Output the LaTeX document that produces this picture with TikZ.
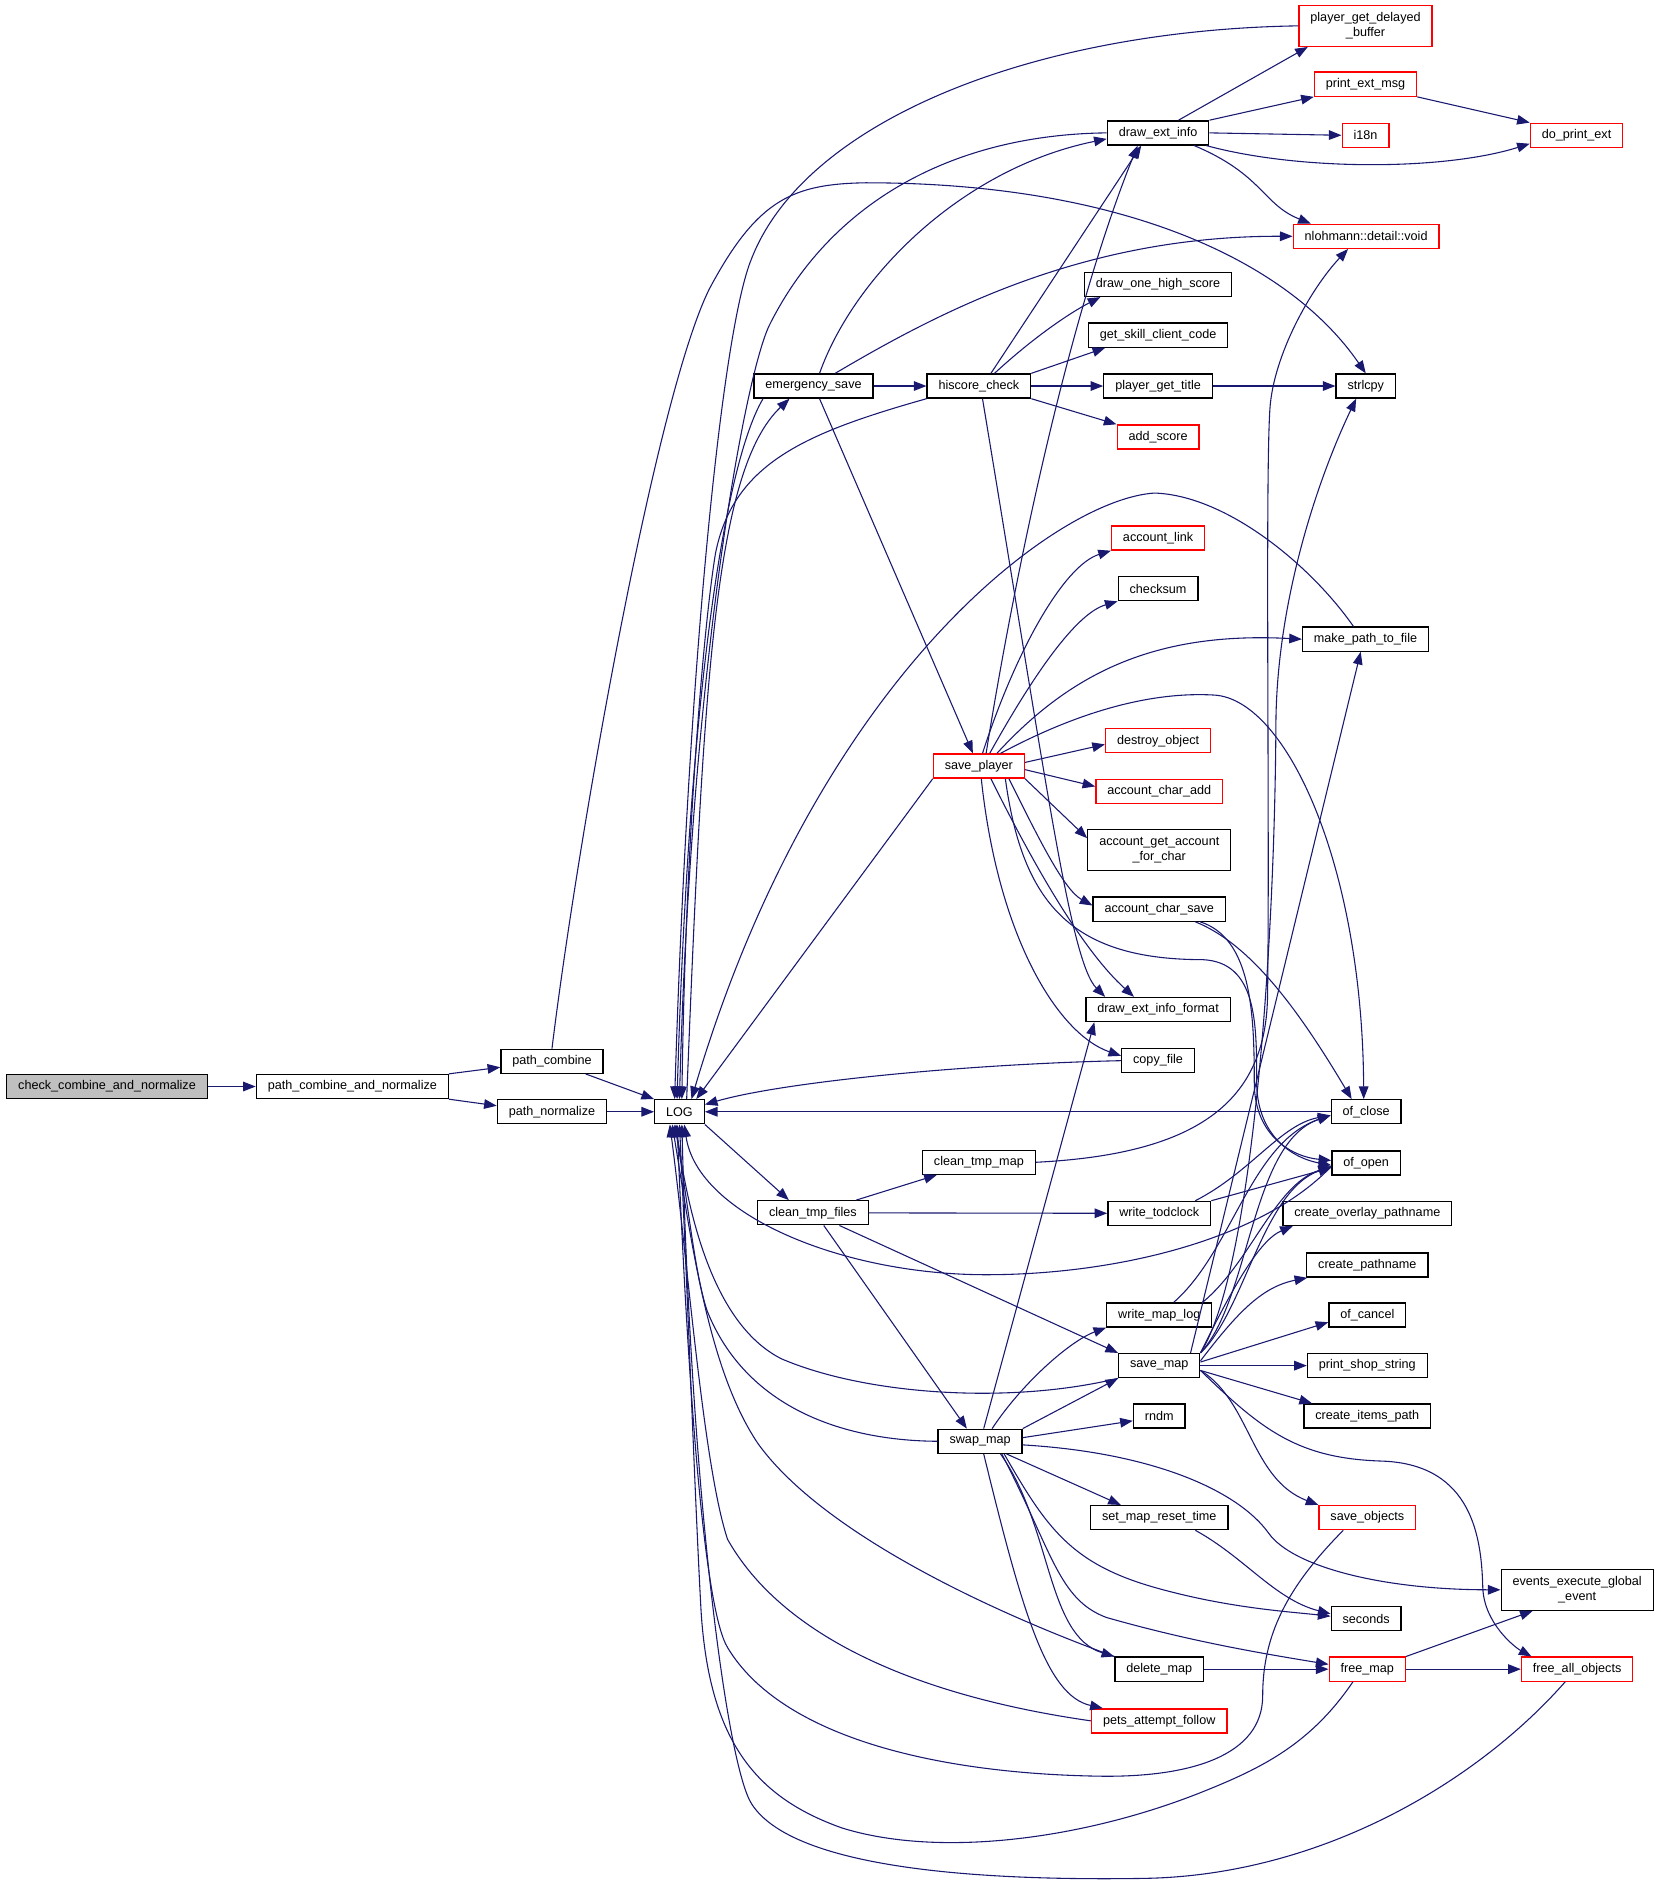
\documentclass[tikz,border=0pt]{standalone}
\usepackage{fontspec}
\setmainfont{Liberation Sans}
\usetikzlibrary{arrows.meta}
\definecolor{edgeblue}{HTML}{191970}
\definecolor{rootgray}{HTML}{BFBFBF}
\begin{document}
\begin{tikzpicture}[x=1pt, y=-1pt,
  >={Triangle[length=10.5pt,width=8pt]},
  fn/.style={draw=black, line width=1.1pt, minimum height=20pt, inner xsep=9.5pt, inner ysep=2pt, font=\fontsize{10.5}{12}\selectfont},
  fnred/.style={fn, draw=red},
  twoline/.style={align=center, minimum height=34pt},
  call/.style={edgeblue, line width=0.9pt, ->}]
\useasboundingbox (0,0) rectangle (1380,1565);
% functions
\node[fn, fill=rootgray] (cacn) at (89,903.5) {check\_combine\_and\_normalize};
\node[fn] (pcan) at (293,903.5) {path\_combine\_and\_normalize};
\node[fn] (pcomb) at (459,882.5) {path\_combine};
\node[fn] (pnorm) at (459,924.5) {path\_normalize};
\node[fn] (log) at (565,924.5) {LOG};
\node[fn] (esave) at (676.5,321) {emergency\_save};
\node[fn] (hcheck) at (814,321) {hiscore\_check};
\node[fn] (dei) at (963,110.5) {draw\_ext\_info};
\node[fnred, twoline] (pgdb) at (1135.5,21.5) {player\_get\_delayed\\\_buffer};
\node[fnred] (pem) at (1135.5,70) {print\_ext\_msg};
\node[fnred] (ien) at (1135.5,112.5) {i18n};
\node[fnred] (dpe) at (1311,112.5) {do\_print\_ext};
\node[fnred] (nvoid) at (1136,196.5) {nlohmann::detail::void};
\node[fn] (dohs) at (963,236.5) {draw\_one\_high\_score};
\node[fn] (gscc) at (963,278.7) {get\_skill\_client\_code};
\node[fn] (pgt) at (963,321) {player\_get\_title};
\node[fn] (strl) at (1135.7,321) {strlcpy};
\node[fnred] (ascore) at (963,363.4) {add\_score};
\node[fnred] (alink) at (963,447.4) {account\_link};
\node[fn] (csum) at (963,489.5) {checksum};
\node[fn] (mptf) at (1135.5,531.5) {make\_path\_to\_file};
\node[fnred] (splayer) at (814,637) {save\_player};
\node[fnred] (dobj) at (963,616) {destroy\_object};
\node[fnred] (acadd) at (964,658) {account\_char\_add};
\node[fn, twoline] (agafc) at (964,707) {account\_get\_account\\\_for\_char};
\node[fn] (acsave) at (964,756) {account\_char\_save};
\node[fn] (deif) at (963,839.5) {draw\_ext\_info\_format};
\node[fn] (cfile) at (963,882) {copy\_file};
\node[fn] (oclose) at (1136,924.5) {of\_close};
\node[fn] (ctmap) at (814,966.5) {clean\_tmp\_map};
\node[fn] (oopen) at (1136,967) {of\_open};
\node[fn] (ctfiles) at (676,1008.5) {clean\_tmp\_files};
\node[fn] (wtod) at (964,1009) {write\_todclock};
\node[fn] (cop) at (1137,1009) {create\_overlay\_pathname};
\node[fn] (cpn) at (1137,1052) {create\_pathname};
\node[fn] (wml) at (964,1093.5) {write\_map\_log};
\node[fn] (ocancel) at (1137,1093.5) {of\_cancel};
\node[fn] (smap) at (964,1135.6) {save\_map};
\node[fn] (pss) at (1137,1135.6) {print\_shop\_string};
\node[fn] (rndm) at (964,1177.5) {rndm};
\node[fn] (cip) at (1137,1177.5) {create\_items\_path};
\node[fn] (swmap) at (815,1198.5) {swap\_map};
\node[fn] (smrt) at (964,1262) {set\_map\_reset\_time};
\node[fnred] (sobj) at (1137,1262) {save\_objects};
\node[fn, twoline] (eeg) at (1311.5,1322) {events\_execute\_global\\\_event};
\node[fn] (secs) at (1136,1346) {seconds};
\node[fn] (dmap) at (964,1388) {delete\_map};
\node[fnred] (fmap) at (1137,1388) {free\_map};
\node[fnred] (fao) at (1311.5,1388) {free\_all\_objects};
\node[fnred] (paf) at (964,1431) {pets\_attempt\_follow};
% path_*
\draw[call] (cacn) -- (pcan);
\draw[call] (pcan.north east) -- ([yshift=-5pt]pcomb.west);
\draw[call] (pcan.south east) -- ([yshift=5pt]pnorm.west);
\draw[call] ([xshift=28pt]pcomb.south) -- (log.north west);
\draw[call] (pnorm) -- (log);
\draw[call] (pcomb.north) .. controls (480,700) and (545,330) .. (590,240) .. controls (630,165) and (660,153) .. (720,152) .. controls (930,152) and (1070,215) .. (strl.north);
% LOG and emergency_save
\draw[call] ([xshift=6pt]log.north) .. controls (585,560) and (595,390) .. ([xshift=-20pt]esave.south);
\draw[call] ([xshift=-42pt]esave.south) .. controls (600,390) and (572,600) .. ([xshift=-2pt]log.north);
\draw[call] (esave) -- (hcheck);
\draw[call] ([xshift=5pt]esave.north) .. controls (710,230) and (800,140) .. ([yshift=-5pt]dei.west);
\draw[call] ([xshift=18pt]esave.north) .. controls (780,260) and (900,196) .. (nvoid.west);
\draw[call] ([xshift=5pt]esave.south) -- ([xshift=-5pt]splayer.north);
% draw_ext_info
\draw[call] (pgdb.west) .. controls (860,25) and (670,100) .. (625,215) .. controls (600,275) and (572,560) .. ([xshift=-4pt]log.north);
\draw[call] (dei.west) .. controls (790,112) and (690,170) .. (640,270) .. controls (620,310) and (575,550) .. (log.north);
\draw[call] ([xshift=17pt]dei.north) -- ([xshift=-48pt]pgdb.south);
\draw[call] (dei.north east) -- (pem.south west);
\draw[call] (dei.east) -- (ien.west);
\draw[call] ([xshift=40pt]dei.south) .. controls (1080,142) and (1200,142) .. ([yshift=-7pt]dpe.west);
\draw[call] ([xshift=30pt]dei.south) .. controls (1050,145) and (1050,170) .. ([xshift=-46pt]nvoid.north);
\draw[call] (pem.south east) -- (dpe.north west);
% hiscore_check
\draw[call] ([xshift=10pt]hcheck.north) -- ([xshift=-14pt]dei.south);
\draw[call] ([xshift=13pt]hcheck.north) .. controls (860,280) and (890,260) .. ([xshift=-48pt]dohs.south);
\draw[call] (hcheck.north east) -- ([xshift=-44pt]gscc.south);
\draw[call] (hcheck) -- (pgt);
\draw[call] (pgt) -- (strl);
\draw[call] (hcheck.south east) -- (ascore.north west);
\draw[call] (hcheck.south west) .. controls (670,360) and (610,385) .. (595,460) .. controls (585,520) and (570,700) .. ([xshift=2pt]log.north);
\draw[call] ([xshift=3pt]hcheck.south) .. controls (870,650) and (890,800) .. ([xshift=-44pt]deif.north);
% save_player
\draw[call] ([xshift=6pt]splayer.north) .. controls (845,470) and (890,260) .. ([xshift=-17pt]dei.south);
\draw[call] ([xshift=3pt]splayer.north) .. controls (845,540) and (885,470) .. (alink.south west);
\draw[call] ([xshift=9pt]splayer.north) .. controls (860,560) and (895,510) .. (csum.south west);
\draw[call] ([xshift=15pt]splayer.north) .. controls (890,560) and (960,525) .. (mptf.west);
\draw[call] ([xshift=18pt]splayer.north) .. controls (900,590) and (960,575) .. (1010,578) .. controls (1070,582) and (1133,720) .. ([xshift=-2pt]oclose.north);
\draw[call] ([yshift=3pt]splayer.east) -- ([yshift=-3pt]dobj.west);
\draw[call] ([yshift=-3pt]splayer.east) -- ([yshift=4pt]acadd.west);
\draw[call] (splayer.south east) -- ([yshift=10pt]agafc.west);
\draw[call] ([xshift=25pt]splayer.south) .. controls (865,700) and (885,740) .. ([yshift=3pt]acsave.west);
\draw[call] ([xshift=22pt]splayer.south) .. controls (850,750) and (890,798) .. (1000,798) .. controls (1045,800) and (1045,850) .. (1045,900) .. controls (1045,940) and (1070,962) .. ([yshift=-2pt]oopen.west);
\draw[call] ([xshift=10pt]splayer.south) .. controls (860,720) and (900,790) .. ([xshift=-20pt]deif.north);
\draw[call] ([xshift=2pt]splayer.south) .. controls (830,780) and (880,860) .. ([yshift=4pt]cfile.west);
\draw[call] (splayer.south west) -- ([xshift=14pt]log.north);
\draw[call] ([xshift=-10pt]mptf.north) .. controls (1090,470) and (1020,412) .. (960,410) .. controls (880,415) and (680,560) .. ([xshift=10pt]log.north);
\draw[call] ([xshift=30pt]acsave.south) .. controls (1040,785) and (1080,840) .. ([xshift=-12pt]oclose.north);
\draw[call] ([xshift=34pt]acsave.south) .. controls (1040,780) and (1043,840) .. (1043,900) .. controls (1043,945) and (1075,962) .. ([yshift=2pt]oopen.west);
\draw[call] (cfile.west) .. controls (800,885) and (650,900) .. ([yshift=6pt]log.east);
\draw[call] (oclose) -- (log);
\draw[call] ([yshift=-3pt]oopen.west) .. controls (1050,1030) and (930,1060) .. (820,1060) .. controls (700,1060) and (580,1010) .. ([xshift=4pt]log.south);
% clean_tmp_files
\draw[call] (log.south east) -- ([xshift=-20pt]ctfiles.north);
\draw[call] ([xshift=36pt]ctfiles.north) -- ([xshift=-35pt]ctmap.south);
\draw[call] (ctfiles) -- (wtod);
\draw[call] ([xshift=22pt]ctfiles.south) -- (smap.north west);
\draw[call] ([xshift=9pt]ctfiles.south) -- ([xshift=-11pt]swmap.north);
\draw[call] (ctmap.east) .. controls (990,960) and (1052,920) .. (1054,830) .. controls (1056,700) and (1052,400) .. (1056,340) .. controls (1059,295) and (1090,240) .. ([xshift=-15pt]nvoid.south);
\draw[call] ([xshift=30pt]wtod.north) .. controls (1040,975) and (1065,935) .. ([yshift=-3pt]oclose.west);
\draw[call] (wtod.north east) -- ([yshift=-4pt]oopen.west);
\draw[call] ([xshift=12pt]wml.north) .. controls (1025,1040) and (1040,950) .. ([yshift=-3pt]oclose.west);
\draw[call] ([xshift=36pt]wml.north) .. controls (1040,1050) and (1060,985) .. ([yshift=-3pt]oopen.west);
% save_map
\draw[call] (smap.north east) .. controls (1040,1080) and (1040,950) .. ([yshift=-3pt]oclose.west);
\draw[call] (smap.north east) .. controls (1035,1090) and (1050,990) .. ([yshift=-3pt]oopen.west);
\draw[call] (smap.north east) .. controls (1040,1060) and (1060,800) .. (1061,600) .. controls (1062,500) and (1095,400) .. ([xshift=-8pt]strl.south);
\draw[call] ([xshift=26pt]smap.north) -- ([xshift=-4pt]mptf.south);
\draw[call] (smap.north east) .. controls (1030,1060) and (1050,1030) .. ([xshift=-62pt]cop.south);
\draw[call] ([yshift=4pt]smap.east) .. controls (1030,1090) and (1050,1070) .. ([xshift=-50pt]cpn.south);
\draw[call] ([yshift=3pt]smap.east) -- ([yshift=-6pt]ocancel.west);
\draw[call] (smap) -- (pss);
\draw[call] ([yshift=-4pt]smap.east) -- ([xshift=-46pt]cip.north);
\draw[call] ([yshift=-4pt]smap.east) .. controls (1040,1165) and (1040,1230) .. (sobj.north west);
\draw[call] ([yshift=-4pt]smap.east) .. controls (1050,1190) and (1080,1213) .. (1150,1215) .. controls (1225,1218) and (1232,1280) .. (1233,1320) .. controls (1234,1350) and (1260,1370) .. ([xshift=-38pt]fao.north);
\draw[call] (smap.south west) .. controls (840,1168) and (720,1160) .. (650,1130) .. controls (600,1105) and (575,1030) .. ([xshift=-3pt]log.south);
% swap_map
\draw[call] (swmap.north east) -- (smap.south west);
\draw[call] ([xshift=10pt]swmap.north) .. controls (850,1150) and (890,1115) .. (wml.south west);
\draw[call] ([xshift=3pt]swmap.north) -- ([xshift=-53pt]deif.south);
\draw[call] ([yshift=3pt]swmap.east) -- ([yshift=-4pt]rndm.west);
\draw[call] ([yshift=-3pt]swmap.east) .. controls (960,1208) and (1030,1240) .. (1055,1275) .. controls (1075,1303) and (1150,1322) .. (eeg.west);
\draw[call] ([xshift=22pt]swmap.south) -- ([xshift=-32pt]smrt.north);
\draw[call] ([xshift=20pt]swmap.south) .. controls (870,1270) and (890,1300) .. (960,1320) .. controls (1020,1337) and (1070,1340) .. ([yshift=2pt]secs.west);
\draw[call] ([xshift=30pt]smrt.south) .. controls (1035,1295) and (1060,1330) .. ([yshift=4pt]secs.west);
\draw[call] ([xshift=18pt]swmap.south) .. controls (875,1290) and (880,1330) .. (920,1345) .. controls (990,1365) and (1050,1375) .. ([yshift=4pt]fmap.west);
\draw[call] ([xshift=17pt]swmap.south) .. controls (875,1270) and (870,1360) .. (dmap.north west);
\draw[call] ([xshift=3pt]swmap.south) .. controls (850,1340) and (870,1410) .. ([xshift=-47pt]paf.north);
\draw[call] (swmap.west) .. controls (700,1198) and (620,1170) .. (588,1090) .. controls (578,1060) and (572,1000) .. ([xshift=-4pt]log.south);
% delete_map, free_map and the rest
\draw[call] (dmap) -- (fmap);
\draw[call] (fmap) -- (fao);
\draw[call] (fmap.north east) -- ([xshift=-37pt]eeg.south);
\draw[call] (dmap.north west) .. controls (810,1335) and (680,1270) .. (630,1200) .. controls (590,1140) and (576,1040) .. ([xshift=-6pt]log.south);
\draw[call] (paf.west) .. controls (760,1410) and (650,1360) .. (605,1280) .. controls (585,1220) and (572,1050) .. ([xshift=-8pt]log.south);
\draw[call] ([xshift=-20pt]sobj.south) .. controls (1070,1320) and (1050,1360) .. (1050,1410) .. controls (1050,1460) and (990,1478) .. (915,1477) .. controls (780,1475) and (650,1445) .. (605,1370) .. controls (585,1337) and (572,1150) .. ([xshift=-2pt]log.south);
\draw[call] ([xshift=-12pt]fmap.south) .. controls (1090,1450) and (1050,1470) .. (1000,1490) .. controls (900,1530) and (780,1545) .. (700,1520) .. controls (630,1495) and (590,1450) .. (583,1340) .. controls (578,1250) and (572,1080) .. (log.south);
\draw[call] ([xshift=-10pt]fao.south) .. controls (1230,1480) and (1100,1560) .. (950,1562) .. controls (820,1564) and (660,1555) .. (625,1500) .. controls (605,1469) and (575,1250) .. ([xshift=2pt]log.south);
\end{tikzpicture}
\end{document}
